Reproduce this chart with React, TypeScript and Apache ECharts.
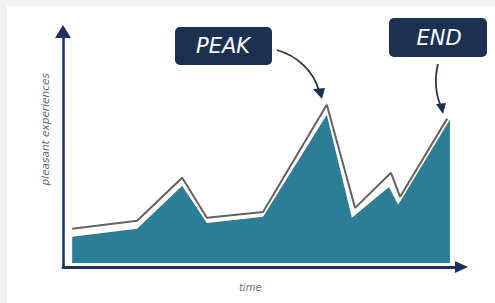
import React, { useEffect, useRef } from "react";
import * as echarts from "echarts";

// time positions (0..100) and pleasant-experience levels (0..100)
const fillTime = [2.3, 18.6, 29.9, 36.1, 50.2, 66.2, 72.5, 81.8, 84.1, 97.1];
const fillLevel = [12.8, 16.2, 34.5, 18.7, 21.3, 64.7, 20.9, 34.0, 26.4, 62.6];
const outlineTime = [2.3, 18.6, 29.9, 36.1, 50.2, 66.2, 73.3, 82.3, 84.6, 96.4];
const outlineLevel = [16.2, 19.6, 37.9, 20.9, 23.4, 68.9, 25.1, 40.0, 29.8, 63.0];
const xName = "time";
const yName = "pleasant experiences";
const labels = ["PEAK", "END"];

const NAVY = "#1c3052";
const AXIS = "#1f2e63";
const TEAL = "#2c7d96";

export default function App() {
  const ref = useRef<HTMLDivElement>(null);
  useEffect(() => {
    document.body.style.margin = "0";
    const chart = echarts.init(ref.current!, null, { renderer: "svg" });
    const fillData = fillTime.map((t, i) => [t, fillLevel[i]]);
    const outlineData = outlineTime.map((t, i) => [t, outlineLevel[i]]);
    const font = "'DejaVu Sans', sans-serif";
    chart.setOption({
      animation: false,
      backgroundColor: "#f1f1f1",
      grid: { left: 63, right: 33.5, top: 31.5, bottom: 36 },
      xAxis: {
        type: "value",
        min: 0,
        max: 100,
        name: xName,
        nameLocation: "middle",
        nameGap: 15,
        nameTextStyle: {
          color: "#707070",
          fontSize: 10,
          fontStyle: "italic",
          fontFamily: font,
          padding: [0, 24, 0, 0],
        },
        axisLine: {
          show: true,
          symbol: ["none", "triangle"],
          symbolSize: [12, 13],
          lineStyle: { color: AXIS, width: 3 },
        },
        axisTick: { show: false },
        axisLabel: { show: false },
        splitLine: { show: false },
      },
      yAxis: {
        type: "value",
        min: 0,
        max: 100,
        name: yName,
        nameLocation: "middle",
        nameGap: 13,
        nameTextStyle: {
          color: "#6a6a6a",
          fontSize: 10.5,
          fontStyle: "italic",
          fontFamily: font,
          padding: [0, 0, 0, 40],
        },
        axisLine: {
          show: true,
          symbol: ["none", "triangle"],
          symbolSize: [16, 13],
          lineStyle: { color: AXIS, width: 2.5 },
        },
        axisTick: { show: false },
        axisLabel: { show: false },
        splitLine: { show: false },
      },
      series: [
        {
          type: "line",
          data: fillData,
          symbol: "none",
          lineStyle: { width: 0, color: TEAL },
          areaStyle: { color: TEAL, opacity: 1, origin: 1.7 },
          z: 2,
        },
        {
          type: "line",
          data: outlineData,
          symbol: "none",
          lineStyle: { width: 2, color: "#626262" },
          z: 3,
        },
      ],
      graphic: [
        { type: "rect", z: -10, shape: { x: 7, y: 6, width: 488, height: 297 }, style: { fill: "#ffffff" }, silent: true },
        { type: "rect", z: 100, shape: { x: 175, y: 27, width: 97, height: 38, r: 5 }, style: { fill: NAVY } },
        {
          type: "text", z: 101, x: 223, y: 46,
          style: { text: labels[0], fill: "#ffffff", font: `italic 21px ${font}`, align: "center", verticalAlign: "middle" },
        },
        { type: "rect", z: 100, shape: { x: 389, y: 18, width: 98, height: 39, r: 5 }, style: { fill: NAVY } },
        {
          type: "text", z: 101, x: 439, y: 38,
          style: { text: labels[1], fill: "#ffffff", font: `italic 21px ${font}`, align: "center", verticalAlign: "middle" },
        },
        {
          type: "bezierCurve", z: 100,
          shape: { x1: 277, y1: 50, cpx1: 298, cpy1: 56, cpx2: 314, cpy2: 72, x2: 319, y2: 91 },
          style: { stroke: "#2a3350", lineWidth: 1.8, fill: "none" },
        },
        {
          type: "polygon", z: 100,
          shape: { points: [[313, 89], [325, 88], [322, 99]] },
          style: { fill: NAVY },
        },
        {
          type: "bezierCurve", z: 100,
          shape: { x1: 438, y1: 64, cpx1: 434, cpy1: 80, cpx2: 436, cpy2: 96, x2: 441, y2: 106 },
          style: { stroke: "#2a3350", lineWidth: 1.8, fill: "none" },
        },
        {
          type: "polygon", z: 100,
          shape: { points: [[436, 104], [446, 103], [443, 114]] },
          style: { fill: NAVY },
        },
      ],
    });
    return () => chart.dispose();
  }, []);
  return <div ref={ref} style={{ width: 495, height: 303 }} />;
}
